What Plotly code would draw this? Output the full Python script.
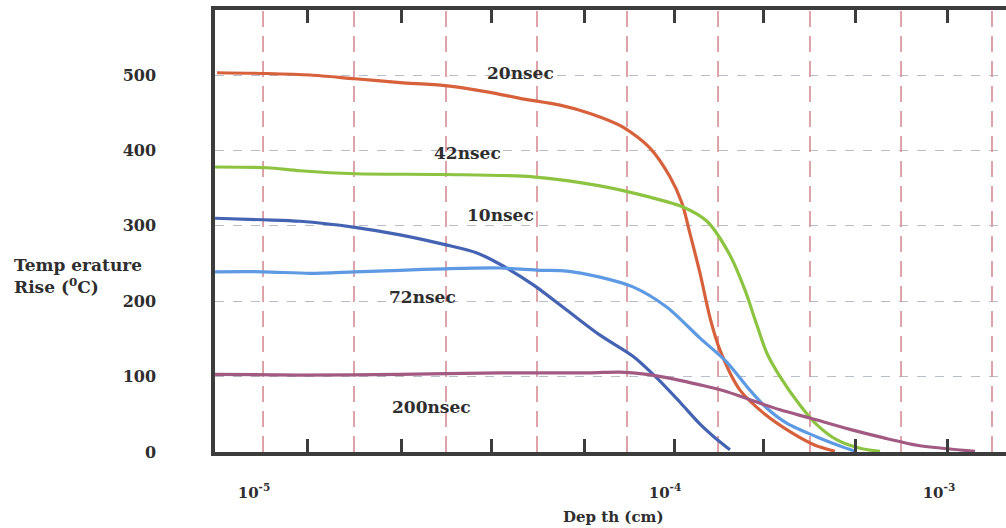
import math
import plotly.graph_objects as go

# Depth (cm) / temperature rise (deg C) profiles for each pulse length
depth_20 = [8.13e-6, 1.075e-5, 1.369e-5, 1.760e-5, 2.266e-5, 2.915e-5, 3.751e-5, 4.437e-5,
            5.553e-5, 6.570e-5, 7.903e-5, 9.193e-5, 1.028e-4, 1.100e-4, 1.150e-4, 1.217e-4,
            1.287e-4, 1.361e-4, 1.522e-4, 1.751e-4, 2.014e-4, 2.317e-4, 2.592e-4]
temp_20 = [503, 502, 500, 495, 490, 486, 477, 469,
           460, 449, 431, 403, 365, 330, 290, 237,
           178, 135, 82, 50, 27, 9, 1]

depth_42 = [8.04e-6, 1.075e-5, 1.294e-5, 1.760e-5, 2.915e-5, 4.772e-5, 6.947e-5, 9.193e-5,
            1.106e-4, 1.265e-4, 1.439e-4, 1.565e-4, 1.674e-4, 1.770e-4, 1.905e-4, 2.131e-4,
            2.343e-4, 2.621e-4, 2.981e-4, 3.335e-4]
temp_42 = [378, 377, 373, 369, 368, 365, 353, 338,
           325, 306, 261, 215, 168, 131, 100, 62,
           36, 16, 5, 1]

depth_10 = [8.04e-6, 1.052e-5, 1.294e-5, 1.760e-5, 2.266e-5, 2.915e-5, 3.488e-5, 3.967e-5,
            4.772e-5, 5.775e-5, 6.947e-5, 8.357e-5, 9.561e-5, 1.088e-4, 1.217e-4, 1.323e-4,
            1.439e-4]
temp_10 = [310, 308, 306, 298, 288, 275, 264, 249,
           222, 188, 155, 127, 98, 66, 37, 19,
           3]

depth_72 = [8.04e-6, 1.052e-5, 1.369e-5, 1.760e-5, 2.266e-5, 2.915e-5, 3.967e-5, 4.964e-5,
            5.775e-5, 6.947e-5, 8.357e-5, 1.011e-4, 1.217e-4, 1.415e-4, 1.609e-4, 1.770e-4,
            1.981e-4, 2.343e-4, 2.666e-4, 2.900e-4]
temp_72 = [239, 239, 237, 239, 241, 243, 244, 241,
           240, 232, 219, 192, 151, 119, 82, 58,
           38, 20, 8, 1]

depth_200 = [8.04e-6, 1.294e-5, 2.266e-5, 3.967e-5, 4.964e-5, 6.570e-5, 7.771e-5, 9.042e-5,
             1.046e-4, 1.217e-4, 1.415e-4, 1.637e-4, 1.905e-4, 2.253e-4, 2.818e-4, 3.391e-4,
             4.102e-4, 4.936e-4, 5.679e-4]
temp_200 = [103, 102, 103, 105, 105, 105, 106, 103,
            97, 89, 80, 68, 56, 45, 30, 19,
            9, 4, 1]

series_names = ["20nsec", "42nsec", "10nsec", "72nsec", "200nsec"]
series_depths = [depth_20, depth_42, depth_10, depth_72, depth_200]
series_temps = [temp_20, temp_42, temp_10, temp_72, temp_200]
series_colors = ["#d6613b", "#8cc441", "#4563b3", "#5d9ae3", "#a25a82"]

# Axis labelling
x_label_vals = [1e-5, 1e-4, 4.64e-4]
x_label_text = ["10<sup>-5</sup>", "10<sup>-4</sup>", "10<sup>-3</sup>"]
x_tick_marks = [1.353e-5, 2.279e-5, 3.793e-5, 6.353e-5, 1.052e-4, 1.741e-4, 2.915e-4, 4.855e-4]
x_grid_vals = [1.052e-5, 1.751e-5, 2.932e-5, 4.882e-5, 8.083e-5, 1.346e-4, 2.253e-4, 3.752e-4, 6.246e-4]
y_tick_vals = [0, 100, 200, 300, 400, 500]
Y_TOP = 586.2

# Curve labels: (text, depth, temperature)
curve_labels = [("20nsec", 4.44e-5, 503), ("42nsec", 3.30e-5, 396),
                ("10nsec", 3.97e-5, 314), ("72nsec", 2.57e-5, 206),
                ("200nsec", 2.71e-5, 60)]

FONT = "DejaVu Serif"
INK = "#2e2e2e"
AXIS = "#3c3c3c"

fig = go.Figure()

# vertical dashed grid, drawn as one broken line under the curves
gx, gy = [], []
for g in x_grid_vals:
    gx += [g, g, None]
    gy += [0, Y_TOP, None]
fig.add_trace(go.Scatter(x=gx, y=gy, mode="lines", hoverinfo="skip", showlegend=False,
                         line=dict(color="#d8949a", width=1.7, dash="16px,9px")))

for name, xs, ys, col in zip(series_names, series_depths, series_temps, series_colors):
    fig.add_trace(go.Scatter(x=xs, y=ys, mode="lines", name=name,
                             line=dict(color=col, width=3.2, shape="spline", smoothing=0.8),
                             showlegend=False))

for text, d, t in curve_labels:
    fig.add_annotation(x=math.log10(d), y=t, xref="x", yref="y", text=text, showarrow=False,
                       font=dict(family=FONT, size=17, color=INK, weight="bold"))

fig.add_annotation(x=-0.257, y=0.398, xref="paper", yref="paper", xanchor="left", yanchor="middle",
                   align="left", showarrow=False,
                   text="Temp erature<br>Rise (<sup>0</sup>C)",
                   font=dict(family=FONT, size=17, color=INK, weight="bold"))
fig.add_annotation(x=0.504, y=-0.147, xref="paper", yref="paper", xanchor="center", yanchor="middle",
                   showarrow=False, text="Dep th (cm)",
                   font=dict(family=FONT, size=15, color=INK, weight="bold"))

fig.update_xaxes(type="log", range=[-5.0949, -3.1703],
                 tickmode="array", tickvals=x_label_vals, ticktext=x_label_text,
                 ticks="", showgrid=False, zeroline=False,
                 showline=True, linecolor=AXIS, linewidth=3.5, mirror="ticks",
                 ticklabelstandoff=24,
                 tickfont=dict(family=FONT, size=15, color=INK, weight="bold"),
                 minor=dict(tickmode="array", tickvals=x_tick_marks, ticks="inside",
                            ticklen=13, tickwidth=2.5, tickcolor=AXIS, showgrid=False))
fig.update_yaxes(range=[0, Y_TOP], tickmode="array", tickvals=y_tick_vals,
                 ticks="", showgrid=True, gridcolor="#b9bdc9", griddash="dash", gridwidth=1,
                 zeroline=False, showline=True, linecolor=AXIS, linewidth=3.5,
                 ticklabelstandoff=52,
                 tickfont=dict(family=FONT, size=16, color=INK, weight="bold"))

fig.update_layout(width=1006, height=528, margin=dict(l=215, r=0, t=10, b=76),
                  paper_bgcolor="white", plot_bgcolor="white")

fig.write_html("out.html")
